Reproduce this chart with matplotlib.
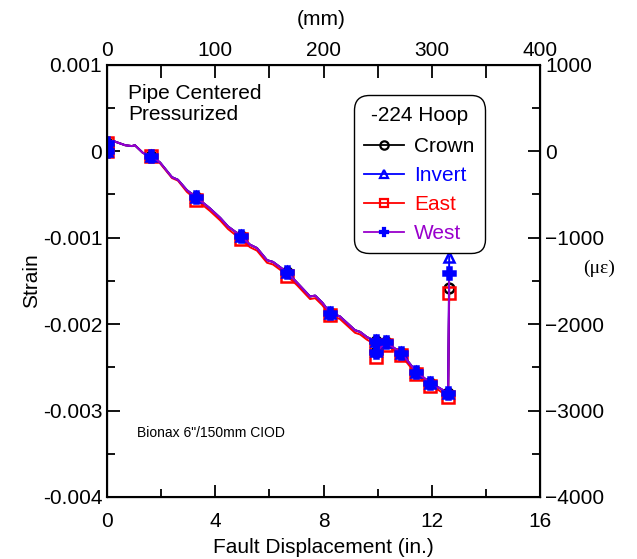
import numpy as np
import matplotlib.pyplot as plt
from matplotlib.lines import Line2D
from matplotlib.ticker import MultipleLocator

plt.rcParams['font.family'] = ['Liberation Sans', 'DejaVu Sans']

# --- DATA (strain in units of 1e-3) ---
disp_in = [0.0, 0.0, 0.22, 0.67, 0.92, 1.03, 1.33, 1.63, 1.96, 2.40, 2.62, 2.95, 3.29, 3.80,
           4.18, 4.47, 4.95, 5.28, 5.54, 5.91, 6.13, 6.39, 6.65, 7.02, 7.50, 7.69, 7.95, 8.24,
           8.60, 9.16, 9.35, 9.60, 9.94, 9.94, 10.31, 10.53, 10.86, 11.42, 11.94, 12.23, 12.60, 12.64]

crown = [0.0, 0.10, 0.12, 0.07, 0.06, 0.07, -0.02, -0.05, -0.13, -0.30, -0.33, -0.45, -0.53, -0.66,
         -0.77, -0.87, -0.98, -1.08, -1.12, -1.26, -1.28, -1.34, -1.40, -1.52, -1.68, -1.67, -1.75, -1.87,
         -1.91, -2.07, -2.09, -2.15, -2.20, -2.32, -2.21, -2.26, -2.33, -2.55, -2.68, -2.73, -2.80, -1.58]
invert = [0.0, 0.10, 0.12, 0.07, 0.06, 0.07, -0.02, -0.05, -0.13, -0.30, -0.33, -0.45, -0.53, -0.66,
          -0.77, -0.87, -0.98, -1.08, -1.12, -1.26, -1.28, -1.34, -1.40, -1.52, -1.68, -1.67, -1.75, -1.87,
          -1.91, -2.07, -2.09, -2.15, -2.20, -2.31, -2.21, -2.26, -2.33, -2.55, -2.68, -2.73, -2.80, -1.22]
east = [0.0, 0.10, 0.12, 0.07, 0.06, 0.07, -0.02, -0.06, -0.14, -0.31, -0.34, -0.47, -0.56, -0.69,
        -0.80, -0.90, -1.02, -1.11, -1.15, -1.29, -1.31, -1.37, -1.44, -1.55, -1.71, -1.70, -1.78, -1.90,
        -1.94, -2.10, -2.12, -2.18, -2.24, -2.38, -2.24, -2.29, -2.36, -2.58, -2.72, -2.76, -2.84, -1.64]
west = [0.0, 0.10, 0.12, 0.07, 0.06, 0.07, -0.02, -0.05, -0.13, -0.30, -0.33, -0.45, -0.53, -0.66,
        -0.77, -0.87, -0.98, -1.08, -1.12, -1.26, -1.28, -1.34, -1.40, -1.52, -1.68, -1.67, -1.75, -1.87,
        -1.91, -2.07, -2.09, -2.15, -2.20, -2.32, -2.21, -2.26, -2.33, -2.55, -2.68, -2.73, -2.80, -1.41]

# indices of recorded points that carry a marker
marker_idx = [0, 1, 7, 12, 16, 22, 27, 32, 33, 34, 36, 37, 38, 40, 41]

series_names = ["Crown", "Invert", "East", "West"]
line_colors = ["black", "#0000ff", "#ff0000", "#9900cc"]

y_ticks = [0.001, 0.0, -0.001, -0.002, -0.003, -0.004]
y_ticklabels = ["0.001", "0", "-0.001", "-0.002", "-0.003", "-0.004"]

fig = plt.figure(figsize=(6.37, 5.59), dpi=100)
ax = fig.add_axes([0.168, 0.111, 0.680, 0.773])

x = np.array(disp_in)
styles = {
    "Crown": dict(marker="o", mfc="none", mec="black", ms=7),
    "Invert": dict(marker="^", mfc="none", mec="#0000ff", ms=7),
    "East": dict(marker="s", mfc="none", mec="#ff0000", ms=8),
    "West": dict(marker="P", mfc="#0000ff", mec="#0000ff", ms=9),
}
data = {"Crown": crown, "Invert": invert, "East": east, "West": west}

# draw order: crown under, west on top
for name in ["Crown", "East", "Invert", "West"]:
    c = line_colors[series_names.index(name)]
    ax.plot(x, np.array(data[name]) * 1e-3, color=c, lw=1.4, markevery=marker_idx,
            mew=1.8, **styles[name])

ax.set_xlim(0, 16)
ax.set_ylim(-0.004, 0.001)
ax.set_xticks([0, 4, 8, 12, 16])
ax.xaxis.set_minor_locator(MultipleLocator(2))
ax.set_yticks(y_ticks)
ax.set_yticklabels(y_ticklabels)
ax.yaxis.set_minor_locator(MultipleLocator(0.0005))
ax.tick_params(which="both", direction="in", labelsize=15, width=1.3)
ax.tick_params(which="major", length=9)
ax.tick_params(which="minor", length=6)
ax.tick_params(axis="x", pad=11)
ax.set_xlabel("Fault Displacement (in.)", fontsize=15, labelpad=5)
ax.set_ylabel("Strain", fontsize=15, labelpad=1)
for s in ax.spines.values():
    s.set_linewidth(1.5)

# top axis in mm
axt = ax.twiny()
axt.set_xlim(0, 400)
axt.set_xticks([0, 100, 200, 300, 400])
axt.xaxis.set_minor_locator(MultipleLocator(50))
axt.tick_params(which="both", direction="in", labelsize=15, width=1.3, length=9)
fig.text(0.505, 0.966, "(mm)", ha="center", va="center", fontsize=15)

# right axis in microstrain
axr = ax.twinx()
axr.set_ylim(-4000, 1000)
axr.set_yticks([1000, 0, -1000, -2000, -3000, -4000])
axr.yaxis.set_minor_locator(MultipleLocator(500))
axr.tick_params(which="both", direction="in", labelsize=15, width=1.3)
axr.tick_params(which="major", length=9)
axr.tick_params(which="minor", length=6)
fig.text(0.94, 0.52, "(\u03bc\u03b5)", ha="center", va="center", fontsize=14,
         family="Liberation Serif")

ax.text(0.048, 0.955, "Pipe Centered\nPressurized", transform=ax.transAxes,
        fontsize=15, va="top", ha="left", linespacing=1.1)
ax.text(0.07, 0.147, "Bionax 6\"/150mm CIOD", transform=ax.transAxes,
        fontsize=10, va="center", ha="left")

handles = []
for name, c in zip(series_names, line_colors):
    st = dict(styles[name])
    st["ms"] = 6
    handles.append(Line2D([], [], color=c, lw=1.3, mew=1.6, **st))
leg = ax.legend(handles, series_names, title="-224 Hoop", loc="upper left",
                bbox_to_anchor=(0.57, 0.93), borderaxespad=0, fontsize=15,
                title_fontsize=15, frameon=True, fancybox=True, edgecolor="black",
                framealpha=1, handlelength=1.9, handletextpad=0.5, labelspacing=0.48,
                borderpad=0.5)
leg.get_frame().set_linewidth(1.0)
leg.get_frame().set_boxstyle("round,pad=0,rounding_size=0.7")
leg._legend_box.sep = 9
for t, c in zip(leg.get_texts(), line_colors):
    t.set_color(c)

fig.savefig("out.png", dpi=100)
